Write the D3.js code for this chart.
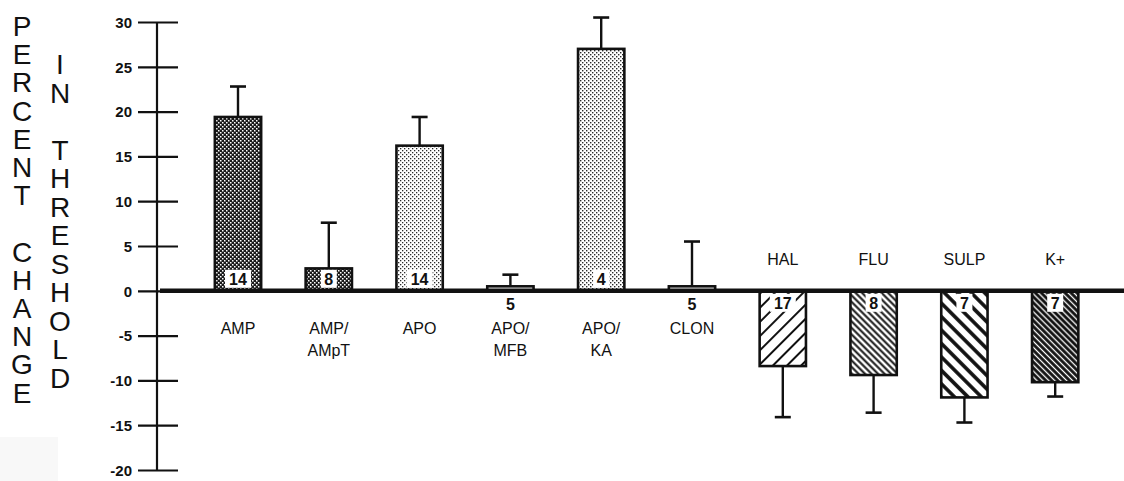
<!DOCTYPE html>
<html>
<head>
<meta charset="utf-8">
<script src="https://cdn.jsdelivr.net/npm/d3@7"></script>
<style>
  html, body { margin: 0; padding: 0; background: #fff; }
  svg { display: block; font-family: "Liberation Sans", Arial, Helvetica, sans-serif; }
</style>
</head>
<body>
<svg id="chart" width="1124" height="481"></svg>
<script>
// ---- data ----
const categories = ["AMP", "AMP/AMpT", "APO", "APO/MFB", "APO/KA", "CLON", "HAL", "FLU", "SULP", "K+"];
const labelLines = [["AMP"], ["AMP/", "AMpT"], ["APO"], ["APO/", "MFB"], ["APO/", "KA"], ["CLON"], ["HAL"], ["FLU"], ["SULP"], ["K+"]];
const values = [19.4, 2.5, 16.2, 0.5, 27.0, 0.5, -8.4, -9.4, -11.9, -10.2];
const errors = [3.4, 5.1, 3.2, 1.3, 3.5, 5.0, 5.7, 4.2, 2.8, 1.6];
const counts = [14, 8, 14, 5, 4, 5, 17, 8, 7, 7];
const fills = ["stipDark", "stipDark", "stipLight", "none", "stipLight2", "none", "hatchWide", "hatchFine", "hatchBold", "hatchDark"];
const tickValues = [30, 25, 20, 15, 10, 5, 0, -5, -10, -15, -20];
const titleCol1 = "PERCENT CHANGE";
const titleCol2 = "IN THRESHOLD";

// ---- setup ----
const svg = d3.select("#chart");
const defs = svg.append("defs");

// faint scan artifact bottom-left
svg.append("rect").attr("x", 0).attr("y", 437).attr("width", 58).attr("height", 44).attr("fill", "#f8f8f8");

function stipple(id, bg, fg, size, dots, d) {
  const p = defs.append("pattern").attr("id", id).attr("patternUnits", "userSpaceOnUse")
    .attr("width", size).attr("height", size);
  p.append("rect").attr("width", size).attr("height", size).attr("fill", bg);
  dots.forEach(([x, y]) => p.append("rect").attr("x", x).attr("y", y).attr("width", d).attr("height", d).attr("fill", fg));
}
stipple("stipDark", "#1a1a1a", "#ffffff", 4, [[0, 0], [2, 2]], 1.5);
stipple("stipLight", "#ffffff", "#2a2a2a", 4, [[0, 0], [2, 2]], 1.3);
stipple("stipLight2", "#ffffff", "#2a2a2a", 4, [[0, 0], [2, 2]], 1.4);

function hatch(id, spacing, angle, bg, fg, sw) {
  const p = defs.append("pattern").attr("id", id).attr("patternUnits", "userSpaceOnUse")
    .attr("width", spacing).attr("height", spacing)
    .attr("patternTransform", `rotate(${angle})`);
  p.append("rect").attr("width", spacing).attr("height", spacing).attr("fill", bg);
  p.append("line").attr("x1", spacing / 2).attr("x2", spacing / 2).attr("y1", 0).attr("y2", spacing)
    .attr("stroke", fg).attr("stroke-width", sw);
}
hatch("hatchWide", 10, 45, "#fff", "#111", 2);
hatch("hatchFine", 4.6, -45, "#fff", "#111", 2);
hatch("hatchBold", 9.5, -45, "#fff", "#111", 3.6);
hatch("hatchDark", 4.2, -45, "#111", "#fff", 1.3);

// ---- scales ----
const x = d3.scaleBand().domain(categories).range([192.6, 1100.6]).paddingInner(0.49).paddingOuter(0.245);
const y = d3.scaleLinear().domain([-20, 30]).range([470, 22]);

// ---- axis ----
const axis = d3.axisLeft(y).tickValues(tickValues).tickSize(19).tickPadding(0).tickFormat(d => String(d));
const gAxis = svg.append("g").attr("transform", "translate(157,0)").call(axis);
gAxis.select(".domain").attr("stroke", "#111").attr("stroke-width", 2.2).attr("d", `M0,${y(30)}V${y(-20)}`);
gAxis.selectAll(".tick line").attr("x1", 21).attr("x2", -19).attr("stroke", "#111").attr("stroke-width", 2.2);
gAxis.selectAll(".tick text").attr("x", -25).attr("dy", "0.35em")
  .attr("font-size", 15).attr("font-weight", "bold").attr("fill", "#111")
  .attr("font-family", "'Liberation Sans', Arial, sans-serif");

// ---- y title (stacked letters) ----
function stack(str, cx, y0, step) {
  svg.append("g").selectAll("text").data(str.split("")).join("text")
    .attr("x", cx).attr("y", (d, i) => y0 + i * step)
    .attr("text-anchor", "middle").attr("dy", "0.36em")
    .attr("font-size", 28).attr("fill", "#111")
    .text(d => d);
}
stack(titleCol1, 22, 26, 28.2);
stack(titleCol2, 60, 64, 28.5);

// ---- bars ----
const data = categories.map((c, i) => ({ c, v: values[i], e: errors[i], n: counts[i], f: fills[i], lines: labelLines[i] }));
const bw = x.bandwidth();

const g = svg.append("g");
g.selectAll("rect.bar").data(data).join("rect").attr("class", "bar")
  .attr("x", d => x(d.c))
  .attr("y", d => y(Math.max(0, d.v)))
  .attr("width", bw)
  .attr("height", d => Math.abs(y(d.v) - y(0)))
  .attr("fill", d => d.f === "none" ? "#fff" : `url(#${d.f})`)
  .attr("stroke", "#111").attr("stroke-width", 2.6);

// error bars
const eb = g.selectAll("g.err").data(data).join("g").attr("class", "err");
eb.append("line")
  .attr("x1", d => x(d.c) + bw / 2).attr("x2", d => x(d.c) + bw / 2)
  .attr("y1", d => y(d.v)).attr("y2", d => y(d.v + Math.sign(d.v) * d.e))
  .attr("stroke", "#111").attr("stroke-width", 2.4);
eb.append("line")
  .attr("x1", d => x(d.c) + bw / 2 - 8).attr("x2", d => x(d.c) + bw / 2 + 8)
  .attr("y1", d => y(d.v + Math.sign(d.v) * d.e)).attr("y2", d => y(d.v + Math.sign(d.v) * d.e))
  .attr("stroke", "#111").attr("stroke-width", 2.6);

// baseline
svg.append("line").attr("x1", 160).attr("x2", 1124)
  .attr("y1", y(0)).attr("y2", y(0)).attr("stroke", "#111").attr("stroke-width", 4.5);

// count boxes
const big = data.filter(d => Math.abs(y(d.v) - y(0)) > 15);
const small = data.filter(d => Math.abs(y(d.v) - y(0)) <= 15);
const cb = g.selectAll("g.cnt").data(big).join("g").attr("class", "cnt");
cb.append("rect")
  .attr("x", d => x(d.c) + bw / 2 - (String(d.n).length > 1 ? 13 : 8))
  .attr("width", d => String(d.n).length > 1 ? 26 : 16)
  .attr("y", d => d.v > 0 ? y(0) - 21 : y(0) + 3)
  .attr("height", 18).attr("fill", "#fff");
cb.append("text")
  .attr("x", d => x(d.c) + bw / 2)
  .attr("y", d => d.v > 0 ? y(0) - 12 : y(0) + 12)
  .attr("dy", "0.36em").attr("text-anchor", "middle")
  .attr("font-size", 16).attr("font-weight", "bold").attr("fill", "#111")
  .text(d => d.n);
svg.append("g").selectAll("text").data(small).join("text")
  .attr("x", d => x(d.c) + bw / 2).attr("y", y(0) + 13)
  .attr("dy", "0.36em").attr("text-anchor", "middle")
  .attr("font-size", 16).attr("font-weight", "bold").attr("fill", "#111")
  .text(d => d.n);

// category labels
const lab = svg.append("g").selectAll("text").data(data).join("text")
  .attr("x", d => x(d.c) + bw / 2)
  .attr("y", d => d.v >= 0 ? 328 : 259)
  .attr("text-anchor", "middle").attr("font-size", 16).attr("fill", "#111");
lab.selectAll("tspan").data(d => d.lines.map(l => ({ l, cx: x(d.c) + bw / 2 }))).join("tspan")
  .attr("x", t => t.cx).attr("dy", (t, i) => i === 0 ? "0.36em" : "1.4em")
  .text(t => t.l);
</script>
</body>
</html>
